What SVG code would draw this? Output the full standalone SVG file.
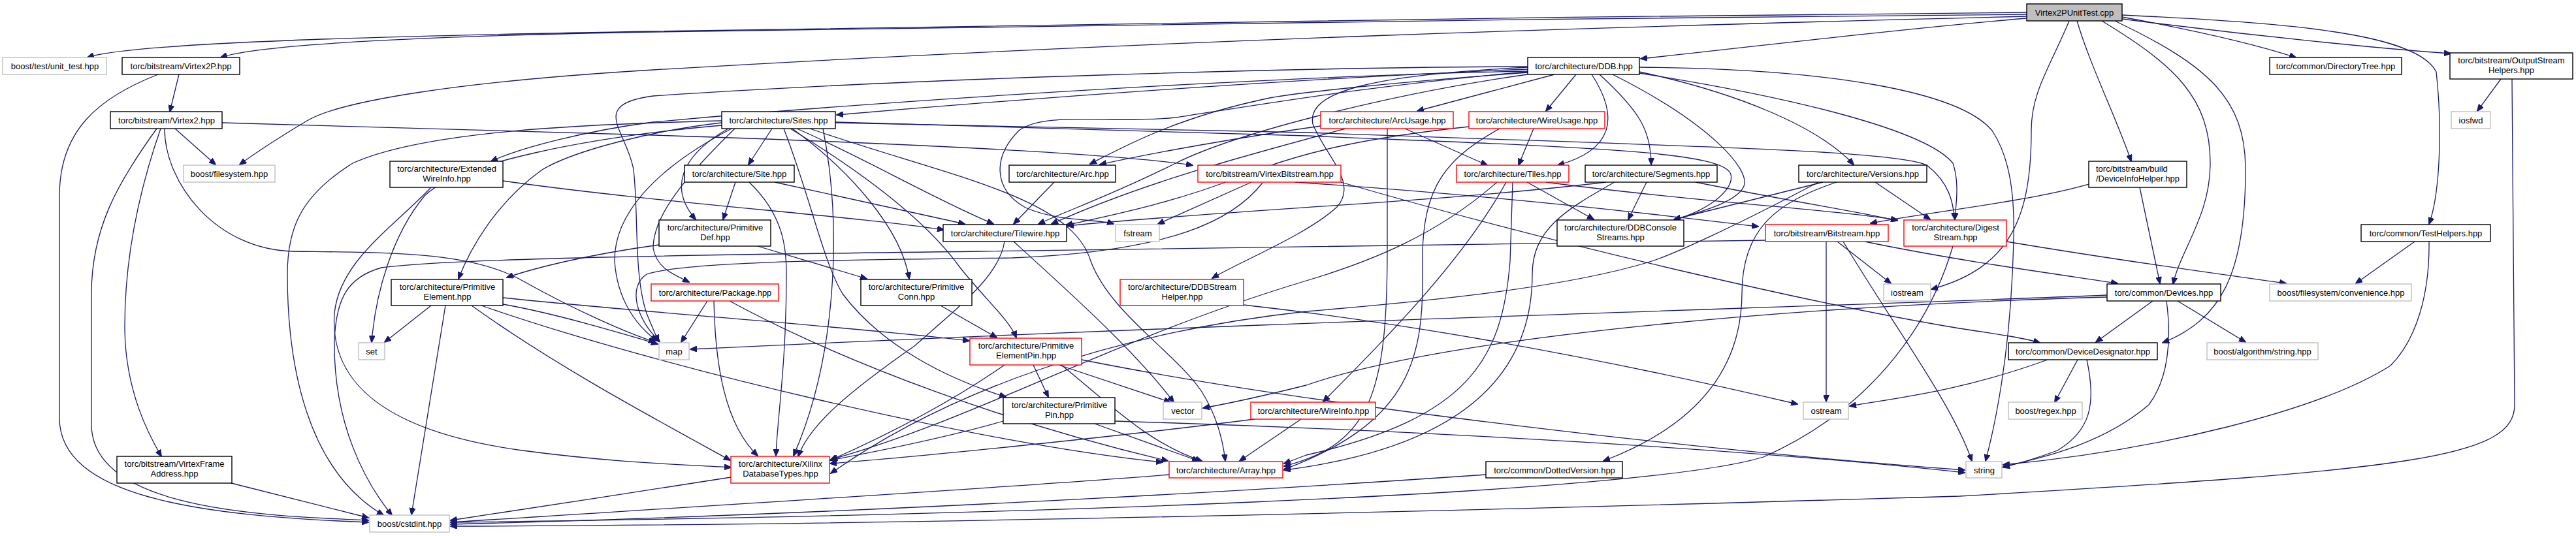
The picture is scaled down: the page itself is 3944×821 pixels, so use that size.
<svg xmlns="http://www.w3.org/2000/svg" width="3944" height="821" viewBox="0 0 3944 821">
<defs>
<style>
.b{fill:#fff;stroke:#000;stroke-width:1.4}
.r{fill:#fff;stroke:#ff0000;stroke-width:1.4}
.x{fill:#fff;stroke:#bfbfbf;stroke-width:1.4}
.t{fill:#bfbfbf;stroke:#000;stroke-width:1.4}
text{font-family:"Liberation Sans",Arial,Helvetica,sans-serif;font-size:13px;fill:#000;text-anchor:middle}
.e path{fill:none;stroke:#191970;stroke-width:1.3;marker-end:url(#a)}
</style>
<marker id="a" markerWidth="11" markerHeight="9" refX="10" refY="4.5" orient="auto" markerUnits="userSpaceOnUse"><path d="M0,0 L11,4.5 L0,9 z" fill="#191970" stroke="#191970" stroke-width="1"/></marker>
</defs>
<rect width="3944" height="821" fill="#fff"/>
<g class="e" id="edges">
<path d="M3103,19 C2400,24 1500,40 1000,48 C600,55 200,65 134,88"/>
<path d="M3103,22 C2400,27 1500,42 1000,49 C700,54 400,66 338,88"/>
<path d="M3103,28 C2900,45 2700,70 2512,90"/>
<path d="M3103,25 C2500,40 1800,60 1000,107 C700,125 520,155 470,185 C420,215 390,235 367,252"/>
<path d="M3249,26 C3380,50 3460,70 3515,88"/>
<path d="M3249,29 C3450,55 3650,75 3752,82"/>
<path d="M3249,23 C3500,35 3700,50 3730,110 C3740,200 3735,300 3719,343"/>
<path d="M3180,32 C3200,100 3240,180 3263,247"/>
<path d="M3218,32 C3330,100 3384,150 3384,250 C3384,330 3340,380 3327,435"/>
<path d="M3238,32 C3380,100 3438,150 3438,260 C3438,420 3400,490 3311,525"/>
<path d="M3168,32 C3140,100 3110,140 3110,200 C3110,330 3080,410 2957,443"/>
<path d="M274,114 L260,171"/>
<path d="M242,114 C150,150 91,200 91,300 L91,640 C91,760 300,790 564,800"/>
<path d="M268,197 L330,252"/>
<path d="M246,197 C210,300 191,400 191,500 C191,600 230,670 247,699"/>
<path d="M240,197 C180,280 140,350 140,450 L140,650 C140,780 400,790 564,797"/>
<path d="M340,188 L1000,207 C1400,220 1700,235 1826,253"/>
<path d="M252,197 C252,280 330,383 450,385 C600,387 720,385 800,430 C880,475 960,510 1003,524"/>
<path d="M2339,106 C2100,115 1700,140 1281,176"/>
<path d="M2339,102 C2000,103 1400,120 1000,147 C900,160 960,200 970,260 C978,330 970,420 990,480 C1000,505 1005,515 1008,523"/>
<path d="M2339,109 C2000,115 1400,150 1000,187 C900,200 800,225 752,247"/>
<path d="M2380,114 L2170,170"/>
<path d="M2413,114 L2367,170"/>
<path d="M2437,114 C2480,180 2470,230 2385,253"/>
<path d="M2449,114 C2510,170 2528,200 2528,252"/>
<path d="M2469,114 C2620,190 2680,260 2670,285 C2660,310 2600,325 2563,337"/>
<path d="M2510,110 C2650,140 2780,190 2838,252"/>
<path d="M2510,112 C2750,150 2950,200 2990,250 C3000,280 2995,310 2993,336"/>
<path d="M2510,103 C2800,105 3000,140 3050,200 C3090,260 3084,350 3081,420 C3075,550 3055,650 3040,706"/>
<path d="M2339,111 C2150,125 2000,140 1944,150 C1800,180 1720,225 1669,251"/>
<path d="M2339,114 C2150,140 1900,200 1800,250 C1700,300 1640,320 1590,343"/>
<path d="M2339,103 C2100,115 2000,140 2010,190 C2030,240 2080,280 2047,317 C2000,360 1900,400 1856,426"/>
<path d="M2339,110 C2100,130 1900,165 1800,180 C1700,190 1600,170 1560,200 C1520,240 1520,290 1570,318 C1620,340 1680,335 1705,343"/>
<path d="M1182,197 L1146,252"/>
<path d="M1115,197 C1040,240 1025,290 1065,336"/>
<path d="M1220,197 C1320,240 1420,300 1521,343"/>
<path d="M1213,197 C1300,260 1380,350 1392,427"/>
<path d="M1210,197 C1330,270 1420,340 1470,410 C1510,460 1545,490 1556,517"/>
<path d="M1200,197 C1240,300 1260,400 1290,450 C1350,530 1450,580 1540,608"/>
<path d="M1240,197 C1450,270 1640,300 1670,400 C1700,480 1800,540 1840,600 C1865,640 1873,680 1876,706"/>
<path d="M1279,187 L2000,208 C2400,225 2640,230 2650,267 C2655,290 2620,320 2563,337"/>
<path d="M1279,188 L2000,203 C2600,225 2900,230 2950,253 C2985,280 2990,310 2993,336"/>
<path d="M1105,188 C1000,200 880,230 830,260 C760,310 720,380 702,427"/>
<path d="M1105,185 C900,190 650,200 540,250 C460,300 440,350 440,420 C440,560 470,720 587,789"/>
<path d="M1260,197 C1290,350 1280,550 1215,698"/>
<path d="M1105,192 C900,210 700,250 650,300 C600,360 575,450 569,524"/>
<path d="M1125,197 C1050,270 1000,330 1000,380 C1005,410 1030,420 1055,432"/>
<path d="M1120,197 C1000,260 940,330 941,400 C945,460 975,500 1006,522"/>
<path d="M2022,193 C1900,210 1760,235 1684,252"/>
<path d="M2151,197 L2277,253"/>
<path d="M2060,197 C1900,240 1750,280 1610,343"/>
<path d="M2124,197 L2124,380 C2124,600 2100,680 1966,714"/>
<path d="M2348,197 L2325,253"/>
<path d="M2249,194 C2100,210 2000,230 1900,270 C1800,310 1700,330 1632,345"/>
<path d="M2296,197 C2200,250 2175,300 2178,420 C2180,560 2150,650 1966,719"/>
<path d="M770,277 C1000,310 1300,330 1445,352"/>
<path d="M660,287 C600,350 520,400 512,480 C505,580 580,660 800,690 C950,710 1060,712 1119,716"/>
<path d="M1126,279 L1107,336"/>
<path d="M1186,279 L1477,343"/>
<path d="M1147,279 C1200,330 1204,380 1204,420 C1204,560 1190,640 1188,698"/>
<path d="M1614,279 L1552,343"/>
<path d="M1916,279 L1773,343"/>
<path d="M1983,279 C2300,300 2550,330 2692,347"/>
<path d="M2053,279 C2400,380 2800,470 3000,503 C3060,512 3100,518 3123,525"/>
<path d="M1933,280 C1890,335 1800,385 1550,395 C1300,398 1050,400 990,420 C960,440 975,490 1010,523"/>
<path d="M2338,279 L2440,336"/>
<path d="M2367,279 C2600,310 2800,320 2905,337"/>
<path d="M2306,279 C2240,400 2120,520 2026,615"/>
<path d="M2316,279 L2312,400 C2300,550 2250,640 2000,697 L1966,710"/>
<path d="M2292,279 C2200,360 2100,400 2000,430 C1700,520 1500,640 1272,704"/>
<path d="M2459,279 C2200,310 1900,320 1634,346"/>
<path d="M2521,279 L2493,336"/>
<path d="M2596,279 C2750,310 2850,325 2905,338"/>
<path d="M2472,279 C2400,320 2346,350 2346,420 C2346,600 2200,690 1966,720"/>
<path d="M2871,279 L2955,336"/>
<path d="M2791,279 L2563,336"/>
<path d="M2812,279 C2720,310 2667,350 2667,450 C2666,600 2550,670 2455,706"/>
<path d="M2784,279 C2650,350 2560,390 2529,400 C2400,440 2200,460 2000,477 C1700,510 1450,600 1272,725"/>
<path d="M3198,282 C3100,310 2950,325 2864,342"/>
<path d="M3276,287 L3307,434"/>
<path d="M1009,375 C900,390 820,410 776,425"/>
<path d="M1160,377 L1327,427"/>
<path d="M1538,370 C1530,420 1480,460 1400,530 C1300,600 1240,650 1222,699"/>
<path d="M1552,370 C1640,450 1740,540 1797,616"/>
<path d="M2813,370 L2895,434"/>
<path d="M2796,370 L2796,615"/>
<path d="M2822,370 C2900,500 2990,620 3019,706"/>
<path d="M2855,370 C3000,400 3150,420 3242,434"/>
<path d="M2703,368 C2400,375 2000,380 1500,385 C1100,390 700,395 584,410 C530,425 515,460 512,520 C510,650 560,740 600,789"/>
<path d="M2990,377 C2960,480 2880,620 2700,700 C2500,760 1500,790 690,800"/>
<path d="M3072,370 C3250,400 3400,420 3500,434"/>
<path d="M3697,370 L3607,434"/>
<path d="M3719,370 C3720,450 3700,520 3660,560 C3550,630 3300,690 3067,712"/>
<path d="M660,468 L589,524"/>
<path d="M682,468 L630,788"/>
<path d="M770,456 C1000,480 1300,500 1484,522"/>
<path d="M770,466 C850,480 950,510 1007,527"/>
<path d="M737,468 C1000,560 1500,680 1780,708"/>
<path d="M722,468 C850,560 1000,640 1118,705"/>
<path d="M1083,461 L1043,524"/>
<path d="M1093,461 C1095,560 1110,650 1160,698"/>
<path d="M1117,461 C1300,560 1550,650 1788,706"/>
<path d="M1440,468 L1526,517"/>
<path d="M1904,467 C2200,500 2500,560 2752,619"/>
<path d="M3296,461 L3209,524"/>
<path d="M3334,461 L3438,524"/>
<path d="M3317,461 C3325,520 3320,580 3290,620 C3220,680 3130,700 3067,715"/>
<path d="M3226,452 C2800,470 2000,490 1057,535"/>
<path d="M3226,455 C2700,470 2200,520 2000,590 C1920,610 1870,620 1842,625"/>
<path d="M1582,559 L1605,608"/>
<path d="M1621,559 L1792,616"/>
<path d="M1538,559 C1450,620 1350,670 1271,705"/>
<path d="M1625,559 C1700,620 1760,680 1840,706"/>
<path d="M1656,551 C2000,620 2600,690 3008,720"/>
<path d="M3181,551 L3146,616"/>
<path d="M3195,551 C3210,620 3200,660 3150,690 C3110,705 3090,710 3067,716"/>
<path d="M3135,551 C3000,600 2900,610 2832,622"/>
<path d="M1536,645 C1450,670 1350,690 1271,705"/>
<path d="M1676,649 L1835,706"/>
<path d="M1707,645 C2200,660 2700,690 3008,724"/>
<path d="M1921,642 C1700,670 1400,700 1271,710"/>
<path d="M1992,642 L1898,706"/>
<path d="M354,740 L564,793"/>
<path d="M1119,731 C1000,750 800,780 690,797"/>
<path d="M1790,727 C1500,750 1000,780 690,800"/>
<path d="M2275,727 C1800,760 1200,790 690,803"/>
<path d="M3829,121 L3793,170"/>
<path d="M3846,121 L3850,620 C3850,700 3700,720 3000,760 C2000,790 1200,805 690,806"/>
</g>
<g id="n0"><rect class="t" x="3103" y="6" width="146" height="26"/><text x="3176" y="24">Virtex2PUnitTest.cpp</text></g>
<g id="n1"><rect class="x" x="4" y="88" width="159" height="26"/><text x="84" y="106">boost/test/unit_test.hpp</text></g>
<g id="n2"><rect class="b" x="187" y="88" width="180" height="26"/><text x="277" y="106">torc/bitstream/Virtex2P.hpp</text></g>
<g id="n3"><rect class="b" x="2339" y="88" width="171" height="26"/><text x="2425" y="106">torc/architecture/DDB.hpp</text></g>
<g id="n4"><rect class="b" x="3475" y="88" width="202" height="26"/><text x="3576" y="106">torc/common/DirectoryTree.hpp</text></g>
<g id="n5"><rect class="b" x="3751" y="81" width="188" height="40"/><text x="3845" y="97">torc/bitstream/OutputStream</text><text x="3845" y="112">Helpers.hpp</text></g>
<g id="n6"><rect class="b" x="169" y="171" width="171" height="26"/><text x="255" y="189">torc/bitstream/Virtex2.hpp</text></g>
<g id="n7"><rect class="b" x="1105" y="171" width="174" height="26"/><text x="1192" y="189">torc/architecture/Sites.hpp</text></g>
<g id="n8"><rect class="r" x="2022" y="171" width="203" height="26"/><text x="2124" y="189">torc/architecture/ArcUsage.hpp</text></g>
<g id="n9"><rect class="r" x="2249" y="171" width="208" height="26"/><text x="2353" y="189">torc/architecture/WireUsage.hpp</text></g>
<g id="n10"><rect class="x" x="3753" y="171" width="60" height="26"/><text x="3783" y="189">iosfwd</text></g>
<g id="n11"><rect class="x" x="281" y="253" width="140" height="26"/><text x="351" y="271">boost/filesystem.hpp</text></g>
<g id="n12"><rect class="b" x="597" y="247" width="173" height="40"/><text x="684" y="263">torc/architecture/Extended</text><text x="684" y="278">WireInfo.hpp</text></g>
<g id="n13"><rect class="b" x="1048" y="253" width="168" height="26"/><text x="1132" y="271">torc/architecture/Site.hpp</text></g>
<g id="n14"><rect class="b" x="1545" y="253" width="163" height="26"/><text x="1627" y="271">torc/architecture/Arc.hpp</text></g>
<g id="n15"><rect class="r" x="1834" y="253" width="219" height="26"/><text x="1944" y="271">torc/bitstream/VirtexBitstream.hpp</text></g>
<g id="n16"><rect class="r" x="2230" y="253" width="172" height="26"/><text x="2316" y="271">torc/architecture/Tiles.hpp</text></g>
<g id="n17"><rect class="b" x="2427" y="253" width="202" height="26"/><text x="2528" y="271">torc/architecture/Segments.hpp</text></g>
<g id="n18"><rect class="b" x="2754" y="253" width="196" height="26"/><text x="2852" y="271">torc/architecture/Versions.hpp</text></g>
<g id="n19"><rect class="b" x="3198" y="247" width="150" height="40"/><text x="3209" y="263" style="text-anchor:start">torc/bitstream/build</text><text x="3209" y="278" style="text-anchor:start">/DeviceInfoHelper.hpp</text></g>
<g id="n20"><rect class="b" x="1009" y="337" width="171" height="40"/><text x="1095" y="353">torc/architecture/Primitive</text><text x="1095" y="368">Def.hpp</text></g>
<g id="n21"><rect class="b" x="1444" y="344" width="189" height="26"/><text x="1539" y="362">torc/architecture/Tilewire.hpp</text></g>
<g id="n22"><rect class="x" x="1708" y="344" width="67" height="26"/><text x="1742" y="362">fstream</text></g>
<g id="n23"><rect class="b" x="2384" y="337" width="194" height="40"/><text x="2481" y="353">torc/architecture/DDBConsole</text><text x="2481" y="368">Streams.hpp</text></g>
<g id="n24"><rect class="r" x="2703" y="344" width="188" height="26"/><text x="2797" y="362">torc/bitstream/Bitstream.hpp</text></g>
<g id="n25"><rect class="r" x="2915" y="337" width="157" height="40"/><text x="2994" y="353">torc/architecture/Digest</text><text x="2994" y="368">Stream.hpp</text></g>
<g id="n26"><rect class="b" x="3615" y="344" width="198" height="26"/><text x="3714" y="362">torc/common/TestHelpers.hpp</text></g>
<g id="n27"><rect class="b" x="599" y="428" width="171" height="40"/><text x="685" y="444">torc/architecture/Primitive</text><text x="685" y="459">Element.hpp</text></g>
<g id="n28"><rect class="r" x="997" y="435" width="195" height="26"/><text x="1095" y="453">torc/architecture/Package.hpp</text></g>
<g id="n29"><rect class="b" x="1318" y="428" width="170" height="40"/><text x="1403" y="444">torc/architecture/Primitive</text><text x="1403" y="459">Conn.hpp</text></g>
<g id="n30"><rect class="r" x="1715" y="428" width="189" height="40"/><text x="1810" y="444">torc/architecture/DDBStream</text><text x="1810" y="459">Helper.hpp</text></g>
<g id="n31"><rect class="x" x="2884" y="435" width="72" height="26"/><text x="2920" y="453">iostream</text></g>
<g id="n32"><rect class="b" x="3226" y="435" width="174" height="26"/><text x="3313" y="453">torc/common/Devices.hpp</text></g>
<g id="n33"><rect class="x" x="3475" y="435" width="217" height="26"/><text x="3584" y="453">boost/filesystem/convenience.hpp</text></g>
<g id="n34"><rect class="x" x="549" y="525" width="40" height="26"/><text x="569" y="543">set</text></g>
<g id="n35"><rect class="x" x="1009" y="525" width="46" height="26"/><text x="1032" y="543">map</text></g>
<g id="n36"><rect class="r" x="1485" y="518" width="171" height="41"/><text x="1571" y="534">torc/architecture/Primitive</text><text x="1571" y="549">ElementPin.hpp</text></g>
<g id="n37"><rect class="b" x="3075" y="525" width="228" height="26"/><text x="3189" y="543">torc/common/DeviceDesignator.hpp</text></g>
<g id="n38"><rect class="x" x="3379" y="525" width="170" height="26"/><text x="3464" y="543">boost/algorithm/string.hpp</text></g>
<g id="n39"><rect class="b" x="1536" y="609" width="171" height="40"/><text x="1622" y="625">torc/architecture/Primitive</text><text x="1622" y="640">Pin.hpp</text></g>
<g id="n40"><rect class="x" x="1781" y="616" width="59" height="26"/><text x="1811" y="634">vector</text></g>
<g id="n41"><rect class="r" x="1915" y="616" width="191" height="26"/><text x="2011" y="634">torc/architecture/WireInfo.hpp</text></g>
<g id="n42"><rect class="x" x="2761" y="616" width="69" height="26"/><text x="2796" y="634">ostream</text></g>
<g id="n43"><rect class="x" x="3075" y="616" width="113" height="26"/><text x="3132" y="634">boost/regex.hpp</text></g>
<g id="n44"><rect class="b" x="179" y="699" width="176" height="41"/><text x="267" y="715">torc/bitstream/VirtexFrame</text><text x="267" y="730">Address.hpp</text></g>
<g id="n45"><rect class="r" x="1119" y="699" width="151" height="41"/><text x="1195" y="715">torc/architecture/Xilinx</text><text x="1195" y="730">DatabaseTypes.hpp</text></g>
<g id="n46"><rect class="r" x="1790" y="707" width="174" height="25"/><text x="1877" y="725">torc/architecture/Array.hpp</text></g>
<g id="n47"><rect class="b" x="2275" y="707" width="209" height="25"/><text x="2380" y="725">torc/common/DottedVersion.hpp</text></g>
<g id="n48"><rect class="x" x="3010" y="707" width="55" height="25"/><text x="3038" y="725">string</text></g>
<g id="n49"><rect class="x" x="566" y="789" width="122" height="26"/><text x="627" y="807">boost/cstdint.hpp</text></g>
</svg>
